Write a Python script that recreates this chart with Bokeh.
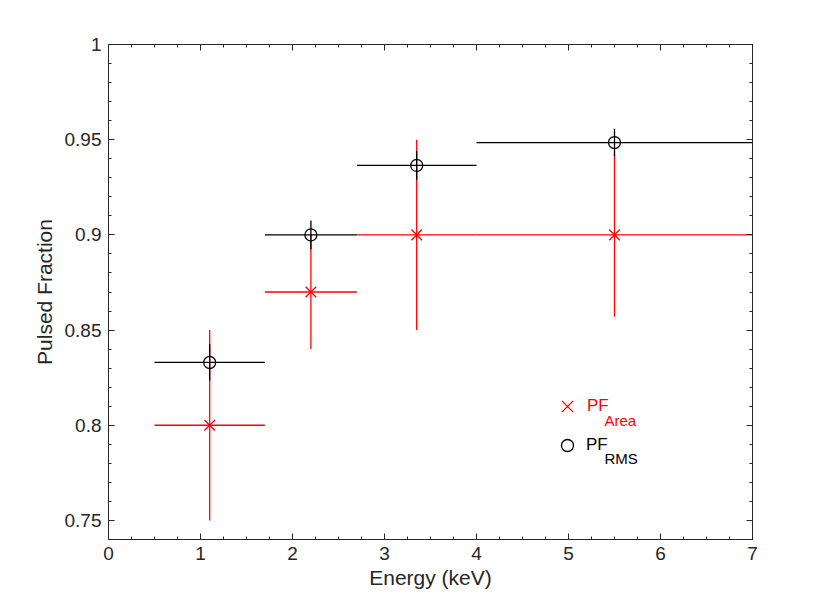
from bokeh.plotting import figure
from bokeh.models import (LinearAxis, FixedTicker, CustomJSTickFormatter, Range1d,
                          Legend, LegendItem, Label, ColumnDataSource)
from bokeh.embed import file_html
from bokeh.resources import INLINE

# ---- data ----
energy = [1.1, 2.2, 3.35, 5.5]
energy_lo = [0.5, 1.7, 2.7, 4.0]
energy_hi = [1.7, 2.7, 4.0, 7.0]
pf_area = [0.80, 0.87, 0.90, 0.90]
pf_area_err = [0.05, 0.03, 0.05, 0.043]
pf_rms = [0.833, 0.900, 0.9365, 0.9485]
pf_rms_err = [0.0095, 0.0075, 0.0075, 0.0072]

x_ticks = [0, 1, 2, 3, 4, 5, 6, 7]
y_ticks = [0.75, 0.8, 0.85, 0.9, 0.95, 1.0]

AX = "#262626"
FONT = "Liberation Sans"

p = figure(frame_width=644, frame_height=495, output_backend="svg", toolbar_location=None,
           x_range=Range1d(0, 7), y_range=Range1d(0.74, 1.0),
           min_border_left=108, min_border_right=70, min_border_top=44, min_border_bottom=59,
           background_fill_color="white", border_fill_color="white")
p.xgrid.visible = False
p.ygrid.visible = False
p.outline_line_color = AX
p.outline_line_width = 1

x_minor = [i * 0.25 for i in range(0, 29) if i % 4 != 0]
y_minor = [round(0.74 + i * 0.01, 2) for i in range(0, 27)]
y_minor = [v for v in y_minor if round(v * 100) % 5 != 0]

def style_axis(ax, ticks, minor, labels=True):
    ax.ticker = FixedTicker(ticks=ticks, minor_ticks=minor)
    ax.major_tick_in = 6
    ax.major_tick_out = 0
    ax.minor_tick_in = 3
    ax.minor_tick_out = 0
    ax.major_tick_line_color = AX
    ax.minor_tick_line_color = AX
    ax.axis_line_color = AX
    ax.major_label_text_font = FONT
    ax.major_label_text_font_size = "19px"
    ax.major_label_text_color = AX
    ax.major_label_standoff = 7
    if labels:
        ax.formatter = CustomJSTickFormatter(code="return String(tick)")
    else:
        ax.formatter = CustomJSTickFormatter(code="return ''")

style_axis(p.xaxis[0], x_ticks, x_minor)
style_axis(p.yaxis[0], y_ticks, y_minor)
p.xaxis[0].axis_label = "Energy (keV)"
p.yaxis[0].axis_label = "Pulsed Fraction"
for ax in (p.xaxis[0], p.yaxis[0]):
    ax.axis_label_text_font = FONT
    ax.axis_label_text_font_size = "21px"
    ax.axis_label_text_font_style = "normal"
    ax.axis_label_text_color = AX
p.xaxis[0].axis_label_standoff = 3
p.yaxis[0].axis_label_standoff = 6

top = LinearAxis()
style_axis(top, x_ticks, x_minor, labels=False)
p.add_layout(top, "above")
right = LinearAxis()
style_axis(right, y_ticks, y_minor, labels=False)
p.add_layout(right, "right")

# ---- data marks ----
src = ColumnDataSource(dict(
    x=energy, xlo=energy_lo, xhi=energy_hi,
    a=pf_area, alo=[v - e for v, e in zip(pf_area, pf_area_err)],
    ahi=[v + e for v, e in zip(pf_area, pf_area_err)],
    r=pf_rms, rlo=[v - e for v, e in zip(pf_rms, pf_rms_err)],
    rhi=[v + e for v, e in zip(pf_rms, pf_rms_err)],
))

RED = "#FF0000"
BLK = "#000000"
LW = 1.3
p.segment(x0="xlo", x1="xhi", y0="a", y1="a", source=src, line_color=RED, line_width=LW)
p.segment(x0="x", x1="x", y0="alo", y1="ahi", source=src, line_color=RED, line_width=LW)
r_area = p.scatter(x="x", y="a", source=src, marker="x", size=15, line_color=RED, line_width=LW)

p.segment(x0="xlo", x1="xhi", y0="r", y1="r", source=src, line_color=BLK, line_width=LW)
p.segment(x0="x", x1="x", y0="rlo", y1="rhi", source=src, line_color=BLK, line_width=LW)
r_rms = p.scatter(x="x", y="r", source=src, marker="circle", size=12, line_color=BLK,
                  fill_color=None, line_width=LW)

# ---- legend ----
def make_legend(renderer, color, loc, box, standoff):
    lg = Legend(items=[LegendItem(label="PF", renderers=[renderer])], location=loc,
                padding=0, margin=0, spacing=0, glyph_width=box, glyph_height=box,
                label_height=box, label_standoff=standoff, border_line_color=None,
                background_fill_alpha=0, label_text_font=FONT,
                label_text_font_size="17px", label_text_color=color)
    p.add_layout(lg, "center")

make_legend(r_area, RED, (439, 113), 40, 0)
make_legend(r_rms, BLK, (444, 79), 30, 4)

p.add_layout(Label(x=496, y=119, x_units="screen", y_units="screen", text="Area",
                   text_font=FONT, text_font_size="15px", text_color=RED,
                   text_baseline="alphabetic"))
p.add_layout(Label(x=496, y=81, x_units="screen", y_units="screen", text="RMS",
                   text_font=FONT, text_font_size="15px", text_color=BLK,
                   text_baseline="alphabetic"))

open("out.html", "w").write(file_html(p, INLINE))
